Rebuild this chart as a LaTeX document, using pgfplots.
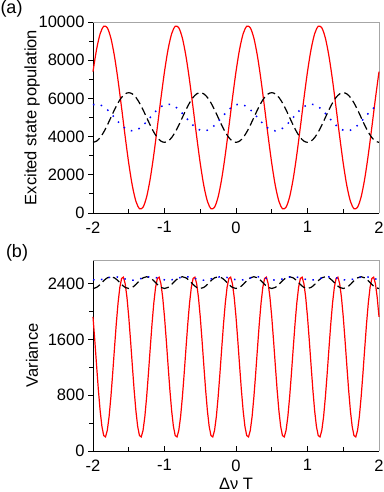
\documentclass[border=0pt]{standalone}
\usepackage{fontspec}
\setmainfont{Liberation Sans}
\usepackage{pgfplots}
\pgfplotsset{compat=1.18}
\definecolor{cred}{RGB}{255,0,0}
\definecolor{cblue}{RGB}{0,0,255}
\newcommand{\fs}{\fontsize{16.5}{19}\selectfont}
\pgfplotsset{panel/.style={
  scale only axis, width=286pt, height=191pt,
  xmin=-2, xmax=2, xtick={-2,-1,0,1,2}, minor x tick num=1,
  axis x line*=bottom, axis y line*=left,
  axis line style={-, black, line width=0.9pt},
  xtick align=inside, ytick align=outside,
  major tick length=5pt, minor tick length=4pt,
  tick style={black, line width=0.8pt},
  tick label style={font=\fs, /pgf/number format/assume math mode=true},
  xticklabel style={yshift=-5pt},
  scaled y ticks=false,
  yticklabel style={/pgf/number format/1000 sep={}},
  every axis y label/.style={at={(axis description cs:-0.213,0.5)}, rotate=90, anchor=center, font=\fs},
  clip=false,
  every axis plot/.append style={line width=1.2pt},
}}
\begin{document}
\begin{tikzpicture}
\path[use as bounding box] (0,0) rectangle (383pt,492pt);

% panel (a)
\begin{axis}[panel, at={(93pt,279pt)}, anchor=south west,
  ymin=0, ymax=10000, ytick={0,2000,4000,6000,8000,10000}, minor y tick num=1,
  ylabel={Excited state population}]
\draw[gray!70, line width=0.9pt] (rel axis cs:0,1) -- (rel axis cs:1,1) -- (rel axis cs:1,0);
\addplot[cred, smooth] coordinates {
(-2,7400) (-1.95,8567) (-1.9,9385) (-1.85,9774) (-1.8,9695) (-1.75,9157) (-1.7,8212) (-1.65,6952) (-1.6,5502) (-1.55,4002) (-1.5,2600) (-1.45,1433) (-1.4,615) (-1.35,226) (-1.3,305) (-1.25,843) (-1.2,1788) (-1.15,3048) (-1.1,4498) (-1.05,5998)
(-1,7400) (-0.95,8567) (-0.9,9385) (-0.85,9774) (-0.8,9695) (-0.75,9157) (-0.7,8212) (-0.65,6952) (-0.6,5502) (-0.55,4002) (-0.5,2600) (-0.45,1433) (-0.4,615) (-0.35,226) (-0.3,305) (-0.25,843) (-0.2,1788) (-0.15,3048) (-0.1,4498) (-0.05,5998)
(0,7400) (0.05,8567) (0.1,9385) (0.15,9774) (0.2,9695) (0.25,9157) (0.3,8212) (0.35,6952) (0.4,5502) (0.45,4002) (0.5,2600) (0.55,1433) (0.6,615) (0.65,226) (0.7,305) (0.75,843) (0.8,1788) (0.85,3048) (0.9,4498) (0.95,5998)
(1,7400) (1.05,8567) (1.1,9385) (1.15,9774) (1.2,9695) (1.25,9157) (1.3,8212) (1.35,6952) (1.4,5502) (1.45,4002) (1.5,2600) (1.55,1433) (1.6,615) (1.65,226) (1.7,305) (1.75,843) (1.8,1788) (1.85,3048) (1.9,4498) (1.95,5998)
(2,7400)};
\addplot[black, smooth, dash pattern=on 8pt off 4pt] coordinates {
(-2,3700) (-1.95,3764) (-1.9,3948) (-1.85,4236) (-1.8,4598) (-1.75,5000) (-1.7,5402) (-1.65,5764) (-1.6,6052) (-1.55,6236) (-1.5,6300) (-1.45,6236) (-1.4,6052) (-1.35,5764) (-1.3,5402) (-1.25,5000) (-1.2,4598) (-1.15,4236) (-1.1,3948) (-1.05,3764)
(-1,3700) (-0.95,3764) (-0.9,3948) (-0.85,4236) (-0.8,4598) (-0.75,5000) (-0.7,5402) (-0.65,5764) (-0.6,6052) (-0.55,6236) (-0.5,6300) (-0.45,6236) (-0.4,6052) (-0.35,5764) (-0.3,5402) (-0.25,5000) (-0.2,4598) (-0.15,4236) (-0.1,3948) (-0.05,3764)
(0,3700) (0.05,3764) (0.1,3948) (0.15,4236) (0.2,4598) (0.25,5000) (0.3,5402) (0.35,5764) (0.4,6052) (0.45,6236) (0.5,6300) (0.55,6236) (0.6,6052) (0.65,5764) (0.7,5402) (0.75,5000) (0.8,4598) (0.85,4236) (0.9,3948) (0.95,3764)
(1,3700) (1.05,3764) (1.1,3948) (1.15,4236) (1.2,4598) (1.25,5000) (1.3,5402) (1.35,5764) (1.4,6052) (1.45,6236) (1.5,6300) (1.55,6236) (1.6,6052) (1.65,5764) (1.7,5402) (1.75,5000) (1.8,4598) (1.85,4236) (1.9,3948) (1.95,3764)
(2,3700)};
\addplot[cblue, smooth, line width=1.5pt, dash pattern=on 1.5pt off 6.5pt] coordinates {
(-2,5666) (-1.95,5700) (-1.9,5666) (-1.85,5566) (-1.8,5411) (-1.75,5216) (-1.7,5000) (-1.65,4784) (-1.6,4589) (-1.55,4434) (-1.5,4334) (-1.45,4300) (-1.4,4334) (-1.35,4434) (-1.3,4589) (-1.25,4784) (-1.2,5000) (-1.15,5216) (-1.1,5411) (-1.05,5566)
(-1,5666) (-0.95,5700) (-0.9,5666) (-0.85,5566) (-0.8,5411) (-0.75,5216) (-0.7,5000) (-0.65,4784) (-0.6,4589) (-0.55,4434) (-0.5,4334) (-0.45,4300) (-0.4,4334) (-0.35,4434) (-0.3,4589) (-0.25,4784) (-0.2,5000) (-0.15,5216) (-0.1,5411) (-0.05,5566)
(0,5666) (0.05,5700) (0.1,5666) (0.15,5566) (0.2,5411) (0.25,5216) (0.3,5000) (0.35,4784) (0.4,4589) (0.45,4434) (0.5,4334) (0.55,4300) (0.6,4334) (0.65,4434) (0.7,4589) (0.75,4784) (0.8,5000) (0.85,5216) (0.9,5411) (0.95,5566)
(1,5666) (1.05,5700) (1.1,5666) (1.15,5566) (1.2,5411) (1.25,5216) (1.3,5000) (1.35,4784) (1.4,4589) (1.45,4434) (1.5,4334) (1.55,4300) (1.6,4334) (1.65,4434) (1.7,4589) (1.75,4784) (1.8,5000) (1.85,5216) (1.9,5411) (1.95,5566)
(2,5666)};
\end{axis}

% panel (b)
\begin{axis}[panel, at={(93pt,41pt)}, anchor=south west,
  ymin=0, ymax=2740, ytick={0,800,1600,2400}, minor y tick num=1,
  ylabel={Variance}]
\draw[gray!70, line width=0.9pt] (rel axis cs:0,1) -- (rel axis cs:1,1) -- (rel axis cs:1,0);
\node[anchor=base, inner sep=0pt, font=\fs] at (rel axis cs:0.5,-0.199) {Δν T};
\addplot[cred] coordinates {
(-2,1924) (-1.975,1588) (-1.95,1228) (-1.925,879) (-1.9,577) (-1.875,350) (-1.85,221) (-1.825,202) (-1.8,296) (-1.775,492) (-1.75,772) (-1.725,1108) (-1.7,1468) (-1.675,1817) (-1.65,2119) (-1.625,2346) (-1.6,2475) (-1.575,2494) (-1.55,2400) (-1.525,2204)
(-1.5,1924) (-1.475,1588) (-1.45,1228) (-1.425,879) (-1.4,577) (-1.375,350) (-1.35,221) (-1.325,202) (-1.3,296) (-1.275,492) (-1.25,772) (-1.225,1108) (-1.2,1468) (-1.175,1817) (-1.15,2119) (-1.125,2346) (-1.1,2475) (-1.075,2494) (-1.05,2400) (-1.025,2204)
(-1,1924) (-0.975,1588) (-0.95,1228) (-0.925,879) (-0.9,577) (-0.875,350) (-0.85,221) (-0.825,202) (-0.8,296) (-0.775,492) (-0.75,772) (-0.725,1108) (-0.7,1468) (-0.675,1817) (-0.65,2119) (-0.625,2346) (-0.6,2475) (-0.575,2494) (-0.55,2400) (-0.525,2204)
(-0.5,1924) (-0.475,1588) (-0.45,1228) (-0.425,879) (-0.4,577) (-0.375,350) (-0.35,221) (-0.325,202) (-0.3,296) (-0.275,492) (-0.25,772) (-0.225,1108) (-0.2,1468) (-0.175,1817) (-0.15,2119) (-0.125,2346) (-0.1,2475) (-0.075,2494) (-0.05,2400) (-0.025,2204)
(0,1924) (0.025,1588) (0.05,1228) (0.075,879) (0.1,577) (0.125,350) (0.15,221) (0.175,202) (0.2,296) (0.225,492) (0.25,772) (0.275,1108) (0.3,1468) (0.325,1817) (0.35,2119) (0.375,2346) (0.4,2475) (0.425,2494) (0.45,2400) (0.475,2204)
(0.5,1924) (0.525,1588) (0.55,1228) (0.575,879) (0.6,577) (0.625,350) (0.65,221) (0.675,202) (0.7,296) (0.725,492) (0.75,772) (0.775,1108) (0.8,1468) (0.825,1817) (0.85,2119) (0.875,2346) (0.9,2475) (0.925,2494) (0.95,2400) (0.975,2204)
(1,1924) (1.025,1588) (1.05,1228) (1.075,879) (1.1,577) (1.125,350) (1.15,221) (1.175,202) (1.2,296) (1.225,492) (1.25,772) (1.275,1108) (1.3,1468) (1.325,1817) (1.35,2119) (1.375,2346) (1.4,2475) (1.425,2494) (1.45,2400) (1.475,2204)
(1.5,1924) (1.525,1588) (1.55,1228) (1.575,879) (1.6,577) (1.625,350) (1.65,221) (1.675,202) (1.7,296) (1.725,492) (1.75,772) (1.775,1108) (1.8,1468) (1.825,1817) (1.85,2119) (1.875,2346) (1.9,2475) (1.925,2494) (1.95,2400) (1.975,2204)
(2,1924)};
\addplot[black, smooth, dash pattern=on 8pt off 4pt] coordinates {
(-2,2331) (-1.95,2347) (-1.9,2389) (-1.85,2442) (-1.8,2484) (-1.75,2500) (-1.7,2484) (-1.65,2442) (-1.6,2389) (-1.55,2347)
(-1.5,2331) (-1.45,2347) (-1.4,2389) (-1.35,2442) (-1.3,2484) (-1.25,2500) (-1.2,2484) (-1.15,2442) (-1.1,2389) (-1.05,2347)
(-1,2331) (-0.95,2347) (-0.9,2389) (-0.85,2442) (-0.8,2484) (-0.75,2500) (-0.7,2484) (-0.65,2442) (-0.6,2389) (-0.55,2347)
(-0.5,2331) (-0.45,2347) (-0.4,2389) (-0.35,2442) (-0.3,2484) (-0.25,2500) (-0.2,2484) (-0.15,2442) (-0.1,2389) (-0.05,2347)
(0,2331) (0.05,2347) (0.1,2389) (0.15,2442) (0.2,2484) (0.25,2500) (0.3,2484) (0.35,2442) (0.4,2389) (0.45,2347)
(0.5,2331) (0.55,2347) (0.6,2389) (0.65,2442) (0.7,2484) (0.75,2500) (0.8,2484) (0.85,2442) (0.9,2389) (0.95,2347)
(1,2331) (1.05,2347) (1.1,2389) (1.15,2442) (1.2,2484) (1.25,2500) (1.3,2484) (1.35,2442) (1.4,2389) (1.45,2347)
(1.5,2331) (1.55,2347) (1.6,2389) (1.65,2442) (1.7,2484) (1.75,2500) (1.8,2484) (1.85,2442) (1.9,2389) (1.95,2347)
(2,2331)};
\addplot[cblue, smooth, line width=1.5pt, dash pattern=on 1.5pt off 6.5pt] coordinates {
(-2,2456) (-1.95,2451) (-1.9,2456) (-1.85,2468) (-1.8,2483) (-1.75,2495) (-1.7,2500) (-1.65,2495) (-1.6,2483) (-1.55,2468)
(-1.5,2456) (-1.45,2451) (-1.4,2456) (-1.35,2468) (-1.3,2483) (-1.25,2495) (-1.2,2500) (-1.15,2495) (-1.1,2483) (-1.05,2468)
(-1,2456) (-0.95,2451) (-0.9,2456) (-0.85,2468) (-0.8,2483) (-0.75,2495) (-0.7,2500) (-0.65,2495) (-0.6,2483) (-0.55,2468)
(-0.5,2456) (-0.45,2451) (-0.4,2456) (-0.35,2468) (-0.3,2483) (-0.25,2495) (-0.2,2500) (-0.15,2495) (-0.1,2483) (-0.05,2468)
(0,2456) (0.05,2451) (0.1,2456) (0.15,2468) (0.2,2483) (0.25,2495) (0.3,2500) (0.35,2495) (0.4,2483) (0.45,2468)
(0.5,2456) (0.55,2451) (0.6,2456) (0.65,2468) (0.7,2483) (0.75,2495) (0.8,2500) (0.85,2495) (0.9,2483) (0.95,2468)
(1,2456) (1.05,2451) (1.1,2456) (1.15,2468) (1.2,2483) (1.25,2495) (1.3,2500) (1.35,2495) (1.4,2483) (1.45,2468)
(1.5,2456) (1.55,2451) (1.6,2456) (1.65,2468) (1.7,2483) (1.75,2495) (1.8,2500) (1.85,2495) (1.9,2483) (1.95,2468)
(2,2456)};
\end{axis}

\node[font=\fontsize{18}{20}\selectfont] at (11.5pt,483pt) {(a)};
\node[font=\fontsize{18}{20}\selectfont] at (17pt,239pt) {(b)};
\end{tikzpicture}
\end{document}
